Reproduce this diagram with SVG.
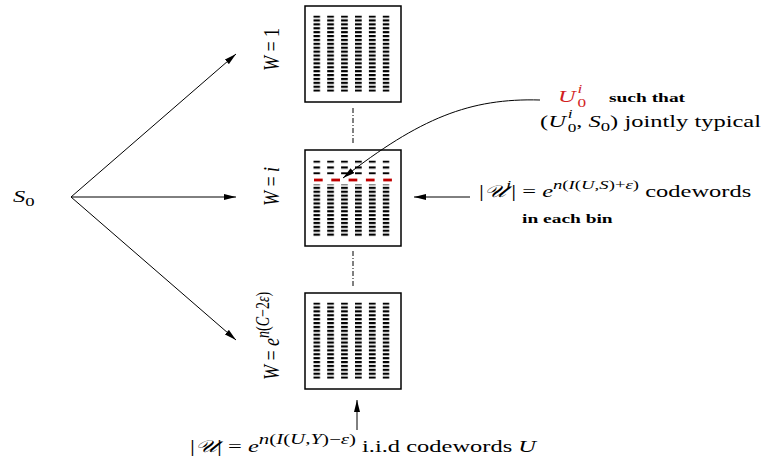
<svg xmlns="http://www.w3.org/2000/svg" width="763" height="457" viewBox="0 0 763 457">
<style>
  text { font-family: "Liberation Serif", "DejaVu Serif", serif; fill: #000; }
  .m { font-size: 17px; }
  .w { font-size: 18px; }
  .it { font-style: italic; }
  .up { font-style: normal; }
  .sup { font-size: 13px; }
  .sc { font-size: 12px; }
  .sup2 { font-size: 14.5px; }
  .wsup { font-size: 14px; }
  .b { font-size: 13.5px; font-weight: bold; }
  .red { fill: #d21f1f; }
  .box { fill: #fff; stroke: #000; stroke-width: 1.5; }
  .conn { stroke: #000; stroke-width: 1; fill: none; }
  .dd { stroke: #000; stroke-width: 1; stroke-dasharray: 5 2 1 2; fill: none; }
  .rd { fill: #c00000; }
</style>
<defs>
  <marker id="ah" viewBox="0 0 12 6" refX="12" refY="3" markerWidth="12" markerHeight="6" orient="auto" markerUnits="userSpaceOnUse">
    <path d="M0,0 L12,3 L0,6 z" fill="#000"/>
  </marker>
  <pattern id="dots" patternUnits="userSpaceOnUse" x="8.3" y="9.5" width="13.9" height="3.9">
    <rect width="6.7" height="2.2" fill="#000"/>
  </pattern>
  <pattern id="dots2" patternUnits="userSpaceOnUse" x="8.3" y="10.5" width="13.9" height="5.9">
    <rect width="6.7" height="2.2" fill="#000"/>
  </pattern>
</defs>

<g id="source">
  <text class="m it" transform="translate(13,202) scale(1.44,1)">S<tspan class="sup up" dy="4">0</tspan></text>
</g>

<g id="bin1" transform="translate(305,6)">
  <rect class="box" width="96" height="96"/>
  <rect x="8.3" y="9.5" width="76.2" height="76.3" fill="url(#dots)"/>
</g>
<g id="bin-i" transform="translate(305,150)">
  <rect class="box" width="96" height="96"/>
  <rect x="8.3" y="10.5" width="76.2" height="14" fill="url(#dots2)"/>
  <rect x="8.3" y="34.5" width="76.2" height="52" fill="url(#dots)"/>
  <rect class="rd" x="9" y="28.6" width="8.7" height="2.8"/>
  <rect class="rd" x="26.3" y="28.6" width="8.7" height="2.8"/>
  <rect class="rd" x="43.6" y="28.6" width="8.7" height="2.8"/>
  <rect class="rd" x="60.9" y="28.6" width="8.7" height="2.8"/>
  <rect class="rd" x="78.2" y="28.6" width="8.7" height="2.8"/>
</g>
<g id="bin-last" transform="translate(305,293)">
  <rect class="box" width="96" height="96"/>
  <rect x="8.3" y="9.5" width="76.2" height="76.3" fill="url(#dots)"/>
</g>

<g id="labels-w">
  <text class="w" transform="translate(279,49.5) scale(1.3,1) rotate(-90)" text-anchor="middle"><tspan class="it">W</tspan> = 1</text>
  <text class="w" transform="translate(279,186.5) scale(1.3,1) rotate(-90)" text-anchor="middle"><tspan class="it">W</tspan> = <tspan class="it">i</tspan></text>
  <text class="w" transform="translate(279,336) scale(1.3,1) rotate(-90)" text-anchor="middle"><tspan class="it">W</tspan> = <tspan class="it">e</tspan><tspan class="wsup" dy="-8"><tspan class="it">n</tspan>(<tspan class="it">C</tspan>−2<tspan class="it">ε</tspan>)</tspan></text>
</g>

<g id="connectors">
  <line class="conn" x1="71" y1="197" x2="236" y2="54" marker-end="url(#ah)"/>
  <line class="conn" x1="71" y1="197" x2="236" y2="197" marker-end="url(#ah)"/>
  <line class="conn" x1="71" y1="197" x2="236" y2="340" marker-end="url(#ah)"/>
  <line class="conn" x1="470" y1="197" x2="414" y2="197" marker-end="url(#ah)"/>
  <line class="conn" x1="357" y1="430" x2="357" y2="400" marker-end="url(#ah)"/>
  <path class="conn" d="M540 100 C470 98, 420 118, 343 178" marker-end="url(#ah)"/>
  <line class="dd" x1="353" y1="108" x2="353" y2="145"/>
  <line class="dd" x1="353" y1="251" x2="353" y2="288"/>
</g>

<g id="note-u0">
  <text class="m it red" transform="translate(558,102) scale(1.44,1)">U<tspan class="sc" x="13.5" dy="-9">i</tspan><tspan class="sc up" x="13.5" dy="14">0</tspan></text>
  <text class="b" transform="translate(609,102) scale(1.44,1)">such that</text>
  <text class="m" transform="translate(540,127) scale(1.44,1)">(<tspan class="it">U</tspan><tspan class="sc it" x="19.2" dy="-9">i</tspan><tspan class="sc" x="19.2" dy="14">0</tspan><tspan dy="-5">, </tspan><tspan class="it">S</tspan><tspan class="sup" dy="4">0</tspan><tspan dy="-4">)  jointly typical</tspan></text>
</g>

<g id="note-bin">
  <text class="m" transform="translate(479,197) scale(1.44,1)">|<tspan class="it">𝒰</tspan><tspan class="sup it" dy="-8">i</tspan><tspan dy="8">| = </tspan><tspan class="it">e</tspan><tspan class="sup" dy="-8"><tspan class="it">n</tspan>(<tspan class="it">I</tspan>(<tspan class="it">U</tspan>,<tspan class="it">S</tspan>)+<tspan class="it">ε</tspan>)</tspan><tspan dy="8"> codewords</tspan></text>
  <text class="b" transform="translate(522,223) scale(1.44,1)">in each bin</text>
</g>

<g id="note-codebook">
  <text class="m" transform="translate(190,452) scale(1.44,1)">|<tspan class="it">𝒰</tspan>| = <tspan class="it">e</tspan><tspan class="sup2" dy="-8"><tspan class="it">n</tspan>(<tspan class="it">I</tspan>(<tspan class="it">U</tspan>,<tspan class="it">Y</tspan>)−<tspan class="it">ε</tspan>)</tspan><tspan dy="8">  i.i.d codewords </tspan><tspan class="it">U</tspan></text>
</g>
</svg>
